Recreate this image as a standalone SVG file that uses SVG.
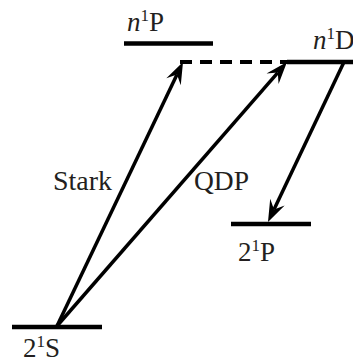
<svg xmlns="http://www.w3.org/2000/svg" width="353" height="362" viewBox="0 0 353 362">
<style>
.lvl{stroke:#000;stroke-width:4.5;fill:none}
.dash{stroke:#000;stroke-width:4;stroke-dasharray:12 8;fill:none}
.arr{stroke:#000;stroke-width:3.5;fill:none;marker-end:url(#ah)}
.t{font-size:27px;fill:#231f20}
.sup{font-size:17px}
</style>
<defs>
<marker id="ah" markerUnits="userSpaceOnUse" orient="auto" refX="-14" refY="0" markerWidth="1" markerHeight="1" overflow="visible">
<path d="M0,0 L-22,-8 L-14,0 L-22,8 Z" fill="#000"/>
</marker>
</defs>
<rect width="353" height="362" fill="#fff"/>
<g font-family="Liberation Serif, Tinos, Times New Roman, Times, Nimbus Roman, FreeSerif, DejaVu Serif, Noto Serif, serif">
<g id="n1P">
<line class="lvl" x1="124" y1="43.5" x2="213" y2="43.5"/>
<text class="t" x="127" y="31"><tspan font-style="italic">n</tspan><tspan class="sup" dy="-10">1</tspan><tspan dy="10">P</tspan></text>
</g>
<g id="n1D">
<line class="lvl" x1="287" y1="62" x2="353" y2="62"/>
<text class="t" x="313" y="49"><tspan font-style="italic">n</tspan><tspan class="sup" dy="-10">1</tspan><tspan dy="10">D</tspan></text>
</g>
<g id="p21P">
<line class="lvl" x1="231" y1="224" x2="311" y2="224"/>
<text class="t" x="238" y="261">2<tspan class="sup" dy="-10">1</tspan><tspan dy="10">P</tspan></text>
</g>
<g id="s21S">
<line class="lvl" x1="12" y1="327" x2="102" y2="327"/>
<text class="t" x="23" y="357">2<tspan class="sup" dy="-10">1</tspan><tspan dy="10">S</tspan></text>
</g>
<g id="connectors">
<line class="dash" x1="180" y1="62" x2="287" y2="62"/>
<line class="arr" x1="57" y1="326" x2="177" y2="74.6"/>
<line class="arr" x1="57" y1="326" x2="277.8" y2="72.6"/>
<line class="arr" x1="344" y1="62" x2="274" y2="209.4"/>
<text class="t" x="53" y="190" textLength="59" lengthAdjust="spacingAndGlyphs">Stark</text>
<text class="t" x="194" y="190" textLength="55" lengthAdjust="spacingAndGlyphs">QDP</text>
</g>
</g>
</svg>
